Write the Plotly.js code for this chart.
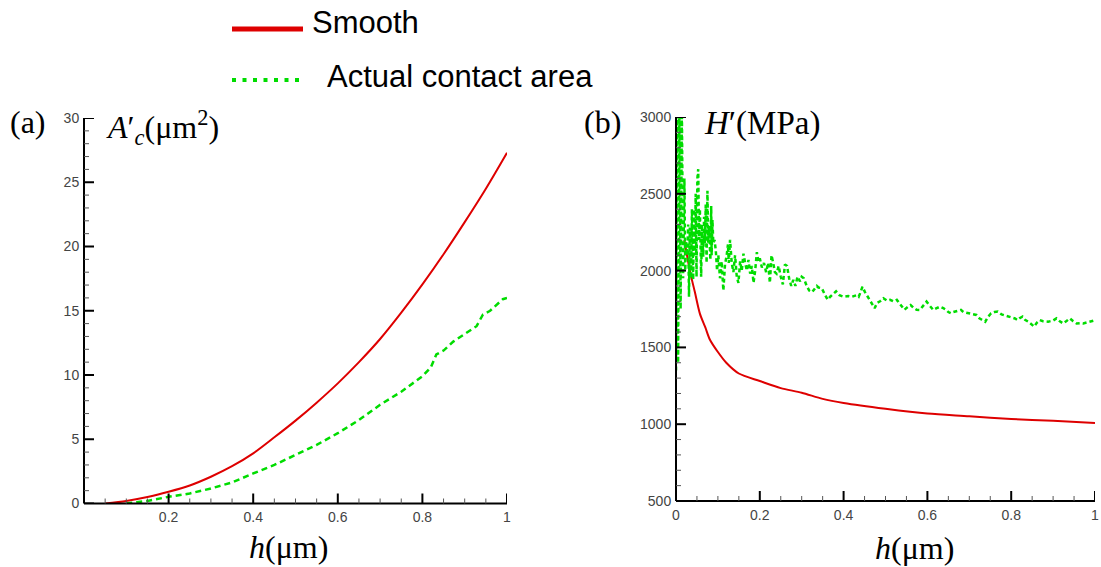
<!DOCTYPE html>
<html>
<head>
<meta charset="utf-8">
<script src="https://cdn.plot.ly/plotly-3.0.1.min.js"></script>
<style>html,body{margin:0;padding:0;background:#fff;}#chart{width:1101px;height:567px;}</style>
</head>
<body>
<div id="chart"></div>
<script>
// ---- Panel (a): contact area A'c (um^2) vs h (um)
const hSmoothA = [0.05,0.1,0.15,0.2,0.25,0.3,0.35,0.4,0.45,0.5,0.55,0.6,0.65,0.7,0.75,0.8,0.85,0.9,0.95,1.0];
const areaSmooth = [0,0.2,0.5,0.91,1.4,2.08,2.9,3.9,5.15,6.45,7.85,9.35,11.0,12.8,14.85,17.05,19.4,21.9,24.5,27.3];
const hActualA = [0.1,0.15,0.2,0.25,0.3,0.35,0.4,0.45,0.5,0.55,0.6,0.65,0.7,0.75,0.8,0.82,0.833,0.85,0.873,0.9,0.928,0.943,0.96,0.99,1.0];
const areaActual = [0,0.2,0.52,0.78,1.17,1.64,2.34,3.0,3.78,4.56,5.47,6.5,7.68,8.7,9.9,10.6,11.6,11.9,12.6,13.2,13.8,14.7,15.0,15.9,16.0];

// ---- Panel (b): hardness H' (MPa) vs h (um)
const hSmoothB = [0.02,0.033,0.045,0.057,0.07,0.081,0.1,0.12,0.15,0.2,0.25,0.3,0.35,0.4,0.5,0.6,0.7,0.8,0.9,1.0];
const hardSmooth = [2200,2000,1860,1720,1630,1550,1470,1400,1330,1281,1235,1205,1165,1138,1100,1069,1052,1034,1022,1008];
const hActualB = [0.000,0.002,0.005,0.008,0.011,0.014,0.017,0.020,0.022,0.024,0.027,0.029,0.031,0.033,0.036,0.038,0.041,0.043,0.045,0.047,0.049,0.051,0.053,0.055,0.057,0.060,0.062,0.065,0.067,0.069,0.071,0.073,0.075,0.077,0.079,0.082,0.084,0.085,0.087,0.089,0.092,0.095,0.098,0.101,0.105,0.109,0.113,0.117,0.121,0.124,0.126,0.129,0.133,0.137,0.141,0.145,0.149,0.153,0.157,0.161,0.165,0.169,0.173,0.177,0.181,0.185,0.189,0.193,0.197,0.200,0.205,0.210,0.215,0.220,0.224,0.228,0.232,0.236,0.240,0.245,0.250,0.255,0.260,0.265,0.270,0.275,0.280,0.285,0.290,0.296,0.300,0.305,0.312,0.318,0.325,0.332,0.336,0.340,0.348,0.356,0.362,0.368,0.375,0.382,0.390,0.400,0.411,0.420,0.431,0.436,0.439,0.445,0.451,0.459,0.467,0.474,0.480,0.487,0.495,0.503,0.511,0.519,0.527,0.535,0.545,0.554,0.560,0.566,0.574,0.582,0.590,0.598,0.606,0.614,0.622,0.630,0.638,0.645,0.650,0.656,0.662,0.668,0.674,0.680,0.686,0.696,0.706,0.717,0.724,0.730,0.738,0.745,0.752,0.760,0.768,0.777,0.790,0.800,0.809,0.815,0.820,0.827,0.833,0.841,0.849,0.855,0.861,0.868,0.876,0.888,0.900,0.908,0.916,0.924,0.932,0.940,0.948,0.956,0.964,0.972,0.980,0.990,1.000];
const hardActual = [1350,3100,1400,3100,1750,3050,1950,2600,2000,2190,2100,2300,1830,2280,1950,2400,1940,2400,2100,2500,1960,2600,2660,2200,2400,1960,2300,2090,2350,2180,2430,2050,2520,2180,2290,2070,2420,2100,2330,2180,2200,2130,2000,2100,1950,2060,1870,2040,2100,2170,2050,2200,2050,1990,2100,1960,1920,2060,2000,2110,2050,2000,2070,1980,2030,1920,2000,2120,2060,2080,2020,2050,1990,2050,1920,2100,2050,1990,1980,2030,1960,1910,2040,2030,1950,1900,1940,1900,1960,1930,1960,1950,1900,1870,1860,1890,1900,1890,1885,1840,1810,1830,1850,1865,1840,1830,1835,1830,1840,1830,1850,1895,1860,1820,1790,1755,1790,1800,1820,1805,1810,1800,1810,1780,1745,1765,1776,1760,1745,1744,1770,1798,1770,1744,1755,1765,1755,1744,1730,1722,1730,1735,1740,1744,1730,1722,1718,1711,1690,1680,1667,1700,1722,1730,1733,1715,1705,1696,1688,1678,1690,1700,1680,1667,1650,1635,1660,1678,1670,1667,1675,1689,1670,1656,1672,1689,1670,1656,1658,1656,1662,1667,1676,1680];

const seriesNames = ['Smooth','Actual contact area'];
const xTickValsA = [0.2,0.4,0.6,0.8,1];
const xTickTextA = ['0.2','0.4','0.6','0.8','1'];
const yTickValsA = [0,5,10,15,20,25,30];
const xTickValsB = [0,0.2,0.4,0.6,0.8,1];
const xTickTextB = ['0','0.2','0.4','0.6','0.8','1'];
const yTickValsB = [500,1000,1500,2000,2500,3000];

const RED = 'rgb(222,0,0)';
const GREEN = 'rgb(0,220,0)';
const SANS = 'Liberation Sans, Arial, sans-serif';
const SERIF = 'Liberation Serif, Times New Roman, serif';
const CLEAR = 'rgba(0,0,0,0)';

const traces = [
  {x: hSmoothA, y: areaSmooth, xaxis:'x', yaxis:'y', mode:'lines', name:seriesNames[0], line:{color:RED, width:2, shape:'spline', smoothing:0.8}},
  {x: hActualA, y: areaActual, xaxis:'x', yaxis:'y', mode:'lines', name:seriesNames[1], line:{color:GREEN, width:2.5, dash:'6px,4px'}},
  {x: hSmoothB, y: hardSmooth, xaxis:'x2', yaxis:'y2', mode:'lines', name:seriesNames[0], line:{color:RED, width:2, shape:'spline', smoothing:0.8}},
  {x: hActualB, y: hardActual, xaxis:'x2', yaxis:'y2', mode:'lines', name:seriesNames[1], line:{color:GREEN, width:2.5, dash:'4px,3px'}}
];

// Axis lines and tick marks are drawn as axis-referenced shapes (native ones kept transparent for label spacing)
function axisBase(){
  return {showline:true, linecolor:CLEAR, linewidth:2, showgrid:false, zeroline:false,
    ticks:'inside', ticklen:10, tickwidth:2, tickcolor:CLEAR, tickfont:{family:SANS, size:14, color:'#444'}};
}
function stepValues(lo, hi, step, skipEvery){
  const out = [];
  const n = Math.round((hi - lo) / step);
  for(let i = 0; i <= n; i++){ if(i % skipEvery !== 0) out.push(+(lo + i * step).toFixed(6)); }
  return out;
}
function axisShapes(xa, ya, xMajor, xMinor, yMajor, yMinor){
  const s = [];
  const major = {color:'#000', width:2}, minor = {color:'#555', width:1};
  s.push({type:'line', xref:xa+' domain', yref:ya+' domain', x0:0, x1:1, y0:0, y1:0, line:{color:'#000', width:2}});
  s.push({type:'line', xref:xa+' domain', yref:ya+' domain', x0:0, x1:0, y0:0, y1:1, line:{color:'#000', width:2}});
  xMajor.forEach(v => s.push({type:'line', xref:xa, yref:ya+' domain', x0:v, x1:v, ysizemode:'pixel', yanchor:0, y0:0, y1:10, line:major}));
  xMinor.forEach(v => s.push({type:'line', xref:xa, yref:ya+' domain', x0:v, x1:v, ysizemode:'pixel', yanchor:0, y0:0, y1:5, line:minor}));
  yMajor.forEach(v => s.push({type:'line', xref:xa+' domain', yref:ya, y0:v, y1:v, xsizemode:'pixel', xanchor:0, x0:0, x1:10, line:major}));
  yMinor.forEach(v => s.push({type:'line', xref:xa+' domain', yref:ya, y0:v, y1:v, xsizemode:'pixel', xanchor:0, x0:0, x1:5, line:minor}));
  return s;
}

const W = 1101, H = 567;
const px = v => v / W;
const py = v => 1 - v / H;

const legendShapes = [
  {type:'line', xref:'paper', yref:'paper', x0:px(232), x1:px(303), y0:py(29), y1:py(29), line:{color:RED, width:5}},
  {type:'line', xref:'paper', yref:'paper', x0:px(232), x1:px(302), y0:py(80), y1:py(80), line:{color:GREEN, width:4, dash:'4px,6.5px'}}
];

const layout = {
  width: W, height: H, margin:{l:0,r:0,t:0,b:0}, paper_bgcolor:'#fff', plot_bgcolor:'#fff', showlegend:false,
  xaxis: Object.assign(axisBase(), {domain:[px(84), px(507)], range:[0,1], tickmode:'array', tickvals:xTickValsA, ticktext:xTickTextA, anchor:'y', ticklabelstandoff:0}),
  yaxis: Object.assign(axisBase(), {domain:[py(503.5), py(118)], range:[0,30], tickmode:'array', tickvals:yTickValsA, anchor:'x', ticklabelstandoff:0}),
  xaxis2: Object.assign(axisBase(), {domain:[px(676), px(1095)], range:[0,1], tickmode:'array', tickvals:xTickValsB, ticktext:xTickTextB, anchor:'y2', ticklabelstandoff:0}),
  yaxis2: Object.assign(axisBase(), {domain:[py(501), py(117)], range:[500,3000], tickmode:'array', tickvals:yTickValsB, anchor:'x2', ticklabelstandoff:0}),
  shapes: legendShapes
    .concat(axisShapes('x', 'y', xTickValsA, stepValues(0, 1, 0.05, 4), yTickValsA, stepValues(0, 30, 1, 5)))
    .concat(axisShapes('x2', 'y2', xTickValsB, stepValues(0, 1, 0.05, 4), yTickValsB, stepValues(500, 3000, 100, 5))),
  annotations:[
    {xref:'paper', yref:'paper', x:px(310), y:py(22), xanchor:'left', yanchor:'middle', showarrow:false, text:seriesNames[0], font:{family:SANS, size:31, color:'#000'}},
    {xref:'paper', yref:'paper', x:px(325), y:py(77), xanchor:'left', yanchor:'middle', showarrow:false, text:seriesNames[1], font:{family:SANS, size:31, color:'#000'}},
    {xref:'paper', yref:'paper', x:px(28), y:py(122), xanchor:'center', yanchor:'middle', showarrow:false, text:'(a)', font:{family:SERIF, size:32, color:'#000'}},
    {xref:'paper', yref:'paper', x:px(602), y:py(122), xanchor:'center', yanchor:'middle', showarrow:false, text:'(b)', font:{family:SERIF, size:32, color:'#000'}},
    {xref:'paper', yref:'paper', x:px(104), y:py(127), xanchor:'left', yanchor:'middle', showarrow:false, text:'<i>A</i>′<sub><i>c</i></sub>(μm<sup>2</sup>)', font:{family:SERIF, size:32, color:'#000'}},
    {xref:'paper', yref:'paper', x:px(702), y:py(123), xanchor:'left', yanchor:'middle', showarrow:false, text:'<i>H</i>′(MPa)', font:{family:SERIF, size:33, color:'#000'}},
    {xref:'paper', yref:'paper', x:px(288), y:py(547), xanchor:'center', yanchor:'middle', showarrow:false, text:'<i>h</i>(μm)', font:{family:SERIF, size:32, color:'#000'}},
    {xref:'paper', yref:'paper', x:px(915), y:py(548), xanchor:'center', yanchor:'middle', showarrow:false, text:'<i>h</i>(μm)', font:{family:SERIF, size:32, color:'#000'}}
  ]
};

Plotly.newPlot('chart', traces, layout, {displayModeBar:false});
</script>
</body>
</html>
